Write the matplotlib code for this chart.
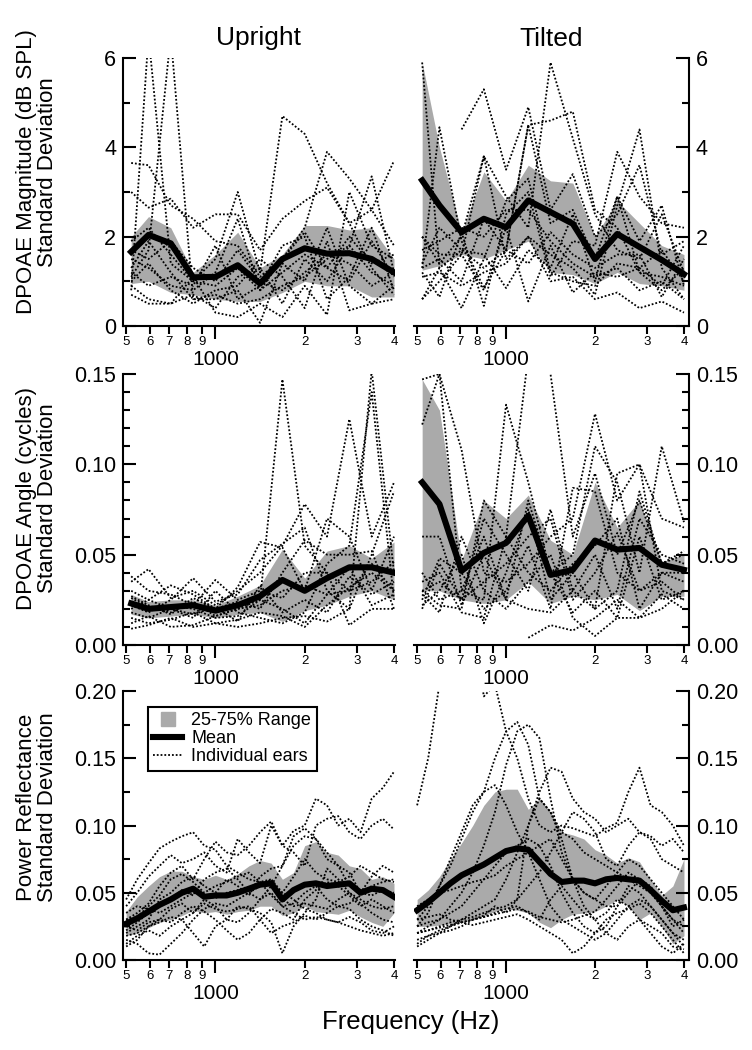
import numpy as np
import matplotlib
matplotlib.use("Agg")
import matplotlib.pyplot as plt
from matplotlib.ticker import FixedLocator, FixedFormatter, MultipleLocator, FormatStrFormatter
from matplotlib.lines import Line2D

plt.rcParams["font.family"] = ["Liberation Sans", "DejaVu Sans"]

nan = np.nan

# DPOAE frequencies (quarter-octave)
f_dp = [520, 595, 707, 841, 1000, 1189, 1414, 1682, 2000, 2378, 2828, 3364, 4000]
# reflectance frequencies (eighth-octave)
f_pr = [500, 545, 595, 648, 707, 771, 841, 917, 1000, 1091, 1189, 1297, 1414,
        1542, 1682, 1834, 2000, 2181, 2378, 2594, 2828, 3084, 3364, 3668, 4000]

# ---- DPOAE magnitude SD (dB SPL) ----
mag_up_mean = [1.66, 2.04, 1.85, 1.09, 1.10, 1.36, 0.95, 1.50, 1.74, 1.62, 1.63, 1.50, 1.20]
mag_up_q75 = [2.0, 2.45, 2.2, 1.2, 1.6, 2.1, 1.3, 1.6, 2.25, 2.25, 2.15, 2.2, 1.5]
mag_up_q25 = [0.95, 1.0, 0.75, 0.7, 0.6, 0.55, 0.55, 0.75, 1.0, 0.9, 0.9, 0.65, 0.65]
mag_up_ears = [
    [0.8, 6.5, 1.4, 1.0, 0.9, 1.3, 0.8, 1.2, 1.6, 1.3, 1.0, 1.9, 1.1],
    [1.1, 1.7, 6.5, 0.6, 0.7, 0.5, 0.6, 0.9, 1.1, 1.5, 1.8, 1.2, 0.9],
    [3.65, 3.6, 2.7, 2.4, 1.9, 1.8, 1.1, 1.5, 2.1, 1.3, 2.0, 1.4, 1.6],
    [3.0, 2.65, 2.85, 2.2, 2.5, 2.5, 1.7, 2.4, 2.8, 3.1, 2.3, 2.6, 1.8],
    [1.9, 2.2, 1.6, 1.0, 1.5, 3.0, 1.2, 4.7, 4.3, 3.2, 2.3, 1.3, 0.7],
    [1.5, 1.3, 0.9, 0.8, 1.2, 2.4, 0.8, 1.5, 2.2, 3.9, 3.3, 2.6, 3.7],
    [0.9, 0.6, 0.5, 0.7, 0.4, 1.1, 1.3, 0.5, 1.5, 1.0, 1.8, 3.35, 1.2],
    [1.3, 1.9, 1.2, 0.6, 0.6, 0.8, 0.07, 1.4, 1.0, 2.2, 0.9, 0.5, 0.6],
    [0.7, 0.5, 0.5, 1.1, 0.3, 0.2, 0.5, 0.2, 0.9, 0.25, 3.0, 1.8, 1.5],
    [1.0, 1.4, 0.8, 0.5, 0.8, 0.9, 1.5, 1.1, 0.4, 1.9, 0.35, 0.5, 0.9],
    [1.7, 1.5, 1.9, 1.3, 1.0, 1.7, 1.0, 0.8, 1.2, 1.6, 1.4, 0.9, 1.2],
    [1.2, 0.9, 1.1, 0.9, 1.8, 0.6, 0.9, 1.8, 2.0, 0.6, 1.1, 2.2, 0.8],
]
mag_ti_mean = [3.26, 2.7, 2.1, 2.4, 2.21, 2.81, 2.55, 2.29, 1.50, 2.06, 1.77, 1.48, 1.16]
mag_ti_q75 = [5.9, 4.0, 2.1, 3.45, 2.8, 3.6, 3.25, 3.2, 2.0, 2.8, 2.3, 1.8, 1.6]
mag_ti_q25 = [1.25, 1.35, 1.6, 1.5, 1.7, 1.9, 1.2, 1.15, 0.95, 1.2, 0.95, 0.9, 0.8]
mag_ti_ears = [
    [5.9, 1.3, 0.4, 1.5, 2.8, 3.3, 1.2, 1.0, 0.9, 1.4, 1.3, 1.7, 1.0],
    [1.3, 4.45, 1.9, 0.85, 1.7, 4.5, 2.3, 2.6, 1.5, 2.9, 1.2, 0.8, 1.3],
    [nan, nan, 4.4, 5.3, 3.5, 4.9, 2.6, 3.4, 2.0, 2.5, 3.6, 1.6, 1.9],
    [2.0, 1.4, 2.0, 3.8, 2.9, 2.2, 5.9, 4.2, 2.5, 1.7, 1.5, 2.5, 1.2],
    [0.6, 1.3, 1.7, 1.3, 1.7, 4.5, 4.6, 4.8, 2.6, 2.2, 1.2, 1.1, 0.9],
    [1.2, 0.65, 2.1, 0.45, 2.5, 3.0, 1.1, 1.9, 1.8, 3.9, 2.9, 2.3, 2.2],
    [0.6, 1.0, 1.6, 3.8, 1.5, 2.0, 1.6, 1.3, 0.7, 2.7, 4.4, 1.3, 0.6],
    [1.4, 2.2, 1.7, 1.6, 0.85, 1.7, 1.3, 2.5, 1.0, 2.9, 1.9, 2.7, 0.9],
    [2.0, 1.6, 1.6, 0.8, 2.2, 0.55, 1.8, 0.75, 1.2, 1.1, 1.3, 0.9, 1.8],
    [1.1, 1.2, 0.9, 1.2, 1.4, 2.0, 1.0, 1.1, 0.6, 0.75, 0.4, 0.55, 0.3],
    [1.7, 1.9, 2.2, 2.0, 2.6, 2.6, 1.9, 1.4, 1.1, 1.3, 0.8, 1.0, 0.6],
    [1.3, 1.5, 1.0, 2.4, 1.7, 1.4, 2.1, 1.6, 1.3, 1.6, 1.6, 0.65, 1.5],
]

# ---- DPOAE angle SD (cycles) ----
ang_up_mean = [0.023, 0.020, 0.021, 0.022, 0.019, 0.022, 0.027, 0.036, 0.030, 0.037, 0.043, 0.043, 0.040]
ang_up_q75 = [0.028, 0.024, 0.025, 0.025, 0.022, 0.027, 0.033, 0.053, 0.037, 0.052, 0.055, 0.048, 0.057]
ang_up_q25 = [0.017, 0.015, 0.016, 0.017, 0.015, 0.017, 0.018, 0.013, 0.019, 0.022, 0.027, 0.030, 0.025]
ang_up_ears = [
    [0.026, 0.021, 0.018, 0.024, 0.016, 0.020, 0.025, 0.147, 0.055, 0.040, 0.030, 0.045, 0.030],
    [0.035, 0.042, 0.026, 0.030, 0.022, 0.030, 0.040, 0.055, 0.078, 0.060, 0.125, 0.060, 0.090],
    [0.022, 0.018, 0.025, 0.037, 0.024, 0.028, 0.047, 0.056, 0.065, 0.030, 0.020, 0.152, 0.040],
    [0.018, 0.015, 0.020, 0.015, 0.030, 0.018, 0.015, 0.012, 0.018, 0.045, 0.055, 0.140, 0.025],
    [0.030, 0.025, 0.033, 0.028, 0.020, 0.032, 0.057, 0.054, 0.030, 0.070, 0.060, 0.030, 0.060],
    [0.015, 0.012, 0.014, 0.018, 0.012, 0.014, 0.018, 0.016, 0.010, 0.022, 0.032, 0.040, 0.030],
    [0.038, 0.030, 0.028, 0.022, 0.036, 0.025, 0.030, 0.026, 0.040, 0.040, 0.011, 0.020, 0.020],
    [0.012, 0.016, 0.010, 0.011, 0.016, 0.020, 0.022, 0.030, 0.033, 0.028, 0.030, 0.035, 0.046],
    [0.024, 0.020, 0.022, 0.020, 0.015, 0.016, 0.025, 0.020, 0.012, 0.028, 0.043, 0.022, 0.028],
    [0.009, 0.011, 0.015, 0.010, 0.012, 0.010, 0.012, 0.015, 0.016, 0.013, 0.020, 0.050, 0.085],
    [0.027, 0.022, 0.017, 0.026, 0.020, 0.024, 0.020, 0.040, 0.058, 0.050, 0.050, 0.052, 0.020],
    [0.020, 0.025, 0.020, 0.017, 0.021, 0.013, 0.033, 0.018, 0.025, 0.018, 0.038, 0.028, 0.035],
]
ang_ti_mean = [0.090, 0.078, 0.041, 0.051, 0.0565, 0.0715, 0.0388, 0.0416, 0.0578, 0.0528, 0.0537, 0.0444, 0.0416]
ang_ti_q75 = [0.147, 0.130, 0.047, 0.080, 0.070, 0.083, 0.058, 0.050, 0.090, 0.065, 0.080, 0.046, 0.050]
ang_ti_q25 = [0.030, 0.030, 0.025, 0.023, 0.025, 0.035, 0.023, 0.027, 0.025, 0.028, 0.019, 0.027, 0.027]
ang_ti_ears = [
    [0.122, 0.150, 0.108, 0.040, 0.035, 0.045, 0.060, 0.070, 0.128, 0.080, 0.100, 0.070, 0.065],
    [0.147, 0.150, 0.030, 0.025, 0.133, 0.090, 0.040, 0.050, 0.110, 0.090, 0.040, 0.110, 0.068],
    [0.030, 0.022, 0.020, 0.080, 0.060, 0.160, 0.150, 0.060, 0.095, 0.050, 0.080, 0.045, 0.050],
    [0.025, 0.048, 0.040, 0.020, 0.030, 0.055, 0.020, 0.087, 0.085, 0.040, 0.030, 0.040, 0.035],
    [0.030, 0.035, 0.025, 0.070, 0.050, 0.030, 0.075, 0.030, 0.050, 0.020, 0.070, 0.050, 0.045],
    [0.022, 0.030, 0.050, 0.012, 0.040, 0.075, 0.025, 0.040, 0.020, 0.095, 0.100, 0.030, 0.025],
    [nan, nan, nan, nan, nan, 0.004, 0.011, 0.008, 0.015, 0.025, 0.015, 0.028, 0.020],
    [0.028, 0.018, 0.060, 0.030, 0.020, 0.035, 0.050, 0.015, 0.005, 0.015, 0.015, 0.020, 0.030],
    [0.035, 0.040, 0.018, 0.015, 0.060, 0.040, 0.030, 0.045, 0.055, 0.070, 0.020, 0.040, 0.040],
    [0.060, 0.060, 0.022, 0.050, 0.025, 0.080, 0.040, 0.018, 0.030, 0.015, 0.060, 0.025, 0.030],
    [0.040, 0.025, 0.030, 0.060, 0.025, 0.020, 0.018, 0.030, 0.020, 0.030, 0.085, 0.045, 0.052],
    [0.020, 0.045, 0.025, 0.035, 0.045, 0.060, 0.070, 0.025, 0.040, 0.062, 0.030, 0.035, 0.025],
]

# ---- Power reflectance SD ----
pr_up_mean = [0.027, 0.031, 0.036, 0.041, 0.045, 0.050, 0.053, 0.047, 0.048, 0.048, 0.050, 0.053, 0.056,
              0.057, 0.045, 0.052, 0.056, 0.057, 0.055, 0.056, 0.057, 0.050, 0.053, 0.052, 0.047]
pr_up_q75 = [0.036, 0.047, 0.055, 0.062, 0.066, 0.066, 0.062, 0.060, 0.063, 0.060, 0.064, 0.070, 0.074,
             0.072, 0.060, 0.065, 0.085, 0.088, 0.080, 0.078, 0.070, 0.068, 0.060, 0.062, 0.057]
pr_up_q25 = [0.018, 0.020, 0.024, 0.028, 0.030, 0.033, 0.037, 0.035, 0.036, 0.034, 0.036, 0.037, 0.040,
             0.040, 0.033, 0.035, 0.040, 0.036, 0.035, 0.034, 0.037, 0.032, 0.028, 0.025, 0.035]
pr_up_ears = [
    [0.045, 0.060, 0.072, 0.083, 0.088, 0.092, 0.095, 0.085, 0.082, 0.070, 0.065, 0.060, 0.058,
     0.055, 0.050, 0.062, 0.075, 0.065, 0.060, 0.058, 0.062, 0.070, 0.065, 0.060, 0.058],
    [0.040, 0.050, 0.062, 0.070, 0.078, 0.072, 0.075, 0.080, 0.070, 0.065, 0.090, 0.080, 0.072,
     0.100, 0.085, 0.096, 0.100, 0.120, 0.115, 0.100, 0.105, 0.095, 0.120, 0.128, 0.140],
    [0.030, 0.035, 0.042, 0.055, 0.065, 0.070, 0.060, 0.075, 0.088, 0.080, 0.078, 0.085, 0.095,
     0.103, 0.085, 0.080, 0.070, 0.100, 0.105, 0.107, 0.095, 0.090, 0.100, 0.105, 0.097],
    [0.020, 0.025, 0.030, 0.045, 0.050, 0.058, 0.062, 0.055, 0.050, 0.060, 0.055, 0.048, 0.062,
     0.068, 0.070, 0.085, 0.092, 0.090, 0.080, 0.070, 0.065, 0.050, 0.062, 0.070, 0.065],
    [0.015, 0.012, 0.005, 0.004, 0.012, 0.020, 0.030, 0.038, 0.042, 0.040, 0.045, 0.050, 0.055,
     0.060, 0.050, 0.045, 0.038, 0.035, 0.030, 0.028, 0.025, 0.022, 0.020, 0.018, 0.020],
    [0.012, 0.018, 0.022, 0.018, 0.025, 0.030, 0.020, 0.010, 0.025, 0.030, 0.040, 0.038, 0.035,
     0.028, 0.005, 0.025, 0.035, 0.045, 0.068, 0.060, 0.050, 0.045, 0.040, 0.038, 0.040],
    [0.025, 0.022, 0.028, 0.030, 0.038, 0.042, 0.035, 0.045, 0.040, 0.030, 0.028, 0.035, 0.045,
     0.055, 0.070, 0.092, 0.098, 0.090, 0.075, 0.070, 0.055, 0.050, 0.048, 0.052, 0.050],
    [0.035, 0.040, 0.038, 0.035, 0.040, 0.045, 0.050, 0.048, 0.046, 0.050, 0.052, 0.054, 0.058,
     0.060, 0.045, 0.040, 0.042, 0.040, 0.038, 0.045, 0.050, 0.042, 0.035, 0.030, 0.028],
    [0.018, 0.020, 0.025, 0.028, 0.032, 0.030, 0.035, 0.042, 0.038, 0.036, 0.038, 0.040, 0.030,
     0.020, 0.025, 0.028, 0.033, 0.030, 0.035, 0.040, 0.038, 0.030, 0.025, 0.022, 0.018],
    [0.030, 0.032, 0.040, 0.048, 0.060, 0.064, 0.058, 0.050, 0.055, 0.058, 0.062, 0.065, 0.058,
     0.048, 0.040, 0.035, 0.030, 0.032, 0.030, 0.028, 0.032, 0.028, 0.022, 0.020, 0.025],
    [0.010, 0.015, 0.025, 0.030, 0.028, 0.035, 0.040, 0.036, 0.030, 0.022, 0.015, 0.020, 0.030,
     0.038, 0.035, 0.030, 0.045, 0.052, 0.058, 0.055, 0.048, 0.040, 0.045, 0.040, 0.035],
    [0.022, 0.028, 0.035, 0.040, 0.045, 0.052, 0.048, 0.060, 0.065, 0.068, 0.060, 0.050, 0.045,
     0.050, 0.040, 0.042, 0.050, 0.055, 0.045, 0.040, 0.042, 0.048, 0.055, 0.058, 0.060],
]
pr_ti_mean = [0.037, 0.043, 0.050, 0.057, 0.063, 0.067, 0.071, 0.076, 0.081, 0.083, 0.082, 0.073, 0.064,
              0.058, 0.059, 0.059, 0.057, 0.060, 0.061, 0.060, 0.059, 0.052, 0.044, 0.037, 0.039]
pr_ti_q75 = [0.045, 0.052, 0.062, 0.075, 0.087, 0.100, 0.115, 0.125, 0.127, 0.127, 0.112, 0.120, 0.110,
             0.095, 0.093, 0.090, 0.082, 0.078, 0.072, 0.076, 0.073, 0.060, 0.048, 0.055, 0.075]
pr_ti_q25 = [0.025, 0.025, 0.026, 0.027, 0.028, 0.030, 0.033, 0.036, 0.038, 0.037, 0.035, 0.028, 0.024,
             0.030, 0.034, 0.035, 0.036, 0.040, 0.045, 0.040, 0.030, 0.035, 0.025, 0.012, 0.018]
pr_ti_ears = [
    [0.115, 0.150, 0.205, 0.260, 0.300, 0.250, 0.196, 0.205, 0.170, 0.150, 0.120, 0.100, 0.095,
     0.100, 0.098, 0.095, 0.092, 0.098, 0.102, 0.125, 0.143, 0.115, 0.110, 0.100, 0.085],
    [0.030, 0.040, 0.055, 0.070, 0.090, 0.110, 0.125, 0.150, 0.170, 0.177, 0.160, 0.120, 0.110,
     0.095, 0.090, 0.080, 0.075, 0.070, 0.065, 0.060, 0.055, 0.050, 0.040, 0.030, 0.025],
    [0.020, 0.025, 0.030, 0.040, 0.050, 0.065, 0.085, 0.110, 0.145, 0.170, 0.175, 0.165, 0.120,
     0.080, 0.060, 0.050, 0.045, 0.040, 0.040, 0.050, 0.060, 0.055, 0.040, 0.030, 0.020],
    [0.025, 0.035, 0.055, 0.075, 0.095, 0.115, 0.125, 0.130, 0.115, 0.095, 0.080, 0.060, 0.040,
     0.030, 0.025, 0.020, 0.015, 0.020, 0.030, 0.040, 0.045, 0.040, 0.030, 0.020, 0.015],
    [0.015, 0.018, 0.022, 0.025, 0.030, 0.035, 0.040, 0.045, 0.060, 0.080, 0.100, 0.125, 0.143,
     0.140, 0.120, 0.110, 0.105, 0.095, 0.100, 0.105, 0.095, 0.092, 0.085, 0.090, 0.080],
    [0.010, 0.015, 0.020, 0.022, 0.025, 0.030, 0.033, 0.040, 0.035, 0.045, 0.055, 0.065, 0.080,
     0.095, 0.110, 0.105, 0.095, 0.075, 0.070, 0.085, 0.095, 0.090, 0.075, 0.070, 0.065],
    [0.020, 0.022, 0.025, 0.028, 0.030, 0.032, 0.035, 0.038, 0.040, 0.045, 0.100, 0.120, 0.110,
     0.090, 0.060, 0.040, 0.030, 0.020, 0.015, 0.025, 0.030, 0.020, 0.010, 0.005, 0.012],
    [0.040, 0.045, 0.050, 0.052, 0.055, 0.058, 0.060, 0.063, 0.070, 0.075, 0.080, 0.085, 0.090,
     0.075, 0.060, 0.050, 0.045, 0.055, 0.065, 0.075, 0.070, 0.060, 0.050, 0.040, 0.030],
    [0.012, 0.018, 0.020, 0.025, 0.028, 0.030, 0.032, 0.035, 0.038, 0.040, 0.035, 0.030, 0.045,
     0.055, 0.045, 0.035, 0.030, 0.035, 0.045, 0.040, 0.030, 0.025, 0.020, 0.010, 0.008],
    [0.020, 0.022, 0.024, 0.026, 0.028, 0.030, 0.032, 0.034, 0.036, 0.038, 0.036, 0.032, 0.030,
     0.028, 0.030, 0.033, 0.036, 0.045, 0.055, 0.065, 0.060, 0.050, 0.040, 0.025, 0.030],
    [0.025, 0.028, 0.030, 0.035, 0.040, 0.050, 0.060, 0.070, 0.080, 0.085, 0.090, 0.085, 0.070,
     0.050, 0.035, 0.025, 0.020, 0.025, 0.040, 0.055, 0.050, 0.040, 0.030, 0.020, 0.010],
    [0.030, 0.032, 0.034, 0.030, 0.028, 0.026, 0.028, 0.030, 0.032, 0.034, 0.030, 0.025, 0.020,
     0.015, 0.005, 0.010, 0.020, 0.030, 0.035, 0.038, 0.042, 0.035, 0.025, 0.015, 0.005],
]

ylabels = ["DPOAE Magnitude (dB SPL)\nStandard Deviation",
           "DPOAE Angle (cycles)\nStandard Deviation",
           "Power Reflectance\nStandard Deviation"]

BAND = "#aaaaaa"
DOT = (0, (1, 1.1))
W, H = 752, 1050
fig = plt.figure(figsize=(W / 100, H / 100), dpi=100)


def px_rect(x0, x1, y0, y1):
    return [x0 / W, 1 - y1 / H, (x1 - x0) / W, (y1 - y0) / H]


rows = [(58, 326), (374, 645), (691, 960)]
cols = [(123, 395), (414, 689)]
xlims = [(488, 4031), (488, 4160)]
ylims = [(0, 6), (0, 0.15), (0, 0.20)]
ymajor = [2, 0.05, 0.05]
yminor = [1, 0.01, 0.025]
yfmt = ["%d", "%.2f", "%.2f"]

panels = [
    [(f_dp, mag_up_mean, mag_up_q25, mag_up_q75, mag_up_ears),
     (f_dp, mag_ti_mean, mag_ti_q25, mag_ti_q75, mag_ti_ears)],
    [(f_dp, ang_up_mean, ang_up_q25, ang_up_q75, ang_up_ears),
     (f_dp, ang_ti_mean, ang_ti_q25, ang_ti_q75, ang_ti_ears)],
    [(f_pr, pr_up_mean, pr_up_q25, pr_up_q75, pr_up_ears),
     (f_pr, pr_ti_mean, pr_ti_q25, pr_ti_q75, pr_ti_ears)],
]

for r in range(3):
    for c in range(2):
        ax = fig.add_axes(px_rect(cols[c][0], cols[c][1], rows[r][0], rows[r][1]))
        freq, mean, q25, q75, ears = panels[r][c]
        ax.fill_between(freq, q25, q75, color=BAND, lw=0, zorder=1)
        for e in ears:
            ax.plot(freq, e, color="black", lw=1.3, ls=DOT, zorder=2)
        ax.plot(freq, mean, color="black", lw=4.4, solid_joinstyle="round", zorder=3)

        ax.set_xscale("log")
        ax.set_xlim(*xlims[c])
        ax.set_ylim(*ylims[r])
        ax.xaxis.set_major_locator(FixedLocator([1000]))
        ax.xaxis.set_major_formatter(FixedFormatter(["1000"]))
        ax.xaxis.set_minor_locator(FixedLocator([500, 600, 700, 800, 900, 2000, 3000, 4000]))
        ax.xaxis.set_minor_formatter(FixedFormatter(["5", "6", "7", "8", "9", "2", "3", "4"]))
        ax.tick_params(axis="x", which="major", direction="out", length=9.5, width=1.5,
                       labelsize=15, pad=8)
        ax.tick_params(axis="x", which="minor", direction="out", length=5.8, width=1.5,
                       labelsize=9.5, pad=1.5)
        ax.yaxis.set_major_locator(MultipleLocator(ymajor[r]))
        ax.yaxis.set_minor_locator(MultipleLocator(yminor[r]))
        ax.yaxis.set_major_formatter(FormatStrFormatter(yfmt[r]))
        ax.tick_params(axis="y", which="major", direction="in", length=9.5, width=1.5,
                       labelsize=15.5, pad=5)
        ax.tick_params(axis="y", which="minor", direction="in", length=5, width=1.5)

        ax.spines["top"].set_visible(False)
        for s in ax.spines.values():
            s.set_linewidth(1.5)
        if c == 0:
            ax.spines["right"].set_visible(False)
        else:
            ax.spines["left"].set_visible(False)
            ax.yaxis.tick_right()
        ax.patch.set_visible(False)

        if r == 0:
            ax.set_title(["Upright", "Tilted"][c], fontsize=19, pad=9)

        if r == 2 and c == 0:
            handles = [
                Line2D([], [], marker="s", color=BAND, ls="none", markersize=10),
                Line2D([], [], color="black", lw=4.4),
                Line2D([], [], color="black", lw=1.3, ls=DOT),
            ]
            leg = ax.legend(handles, ["25-75% Range", "Mean", "Individual ears"],
                            loc="upper left", bbox_to_anchor=(25 / 272, 1 - 16 / 269),
                            borderaxespad=0, fontsize=13, frameon=True, fancybox=False,
                            edgecolor="black", framealpha=1, handlelength=1.6,
                            handletextpad=0.5, labelspacing=0.05, borderpad=0.3)
            leg.get_frame().set_linewidth(1.5)

label_y = [172, 498, 807]
for r in range(3):
    fig.text(37 / W, 1 - label_y[r] / H, ylabels[r], rotation=90, ha="center", va="center",
             fontsize=16, multialignment="center", linespacing=0.95)

fig.text(411 / W, 1 - 1022 / H, "Frequency (Hz)", ha="center", va="center", fontsize=18.5)

fig.savefig("out.png", dpi=100)
